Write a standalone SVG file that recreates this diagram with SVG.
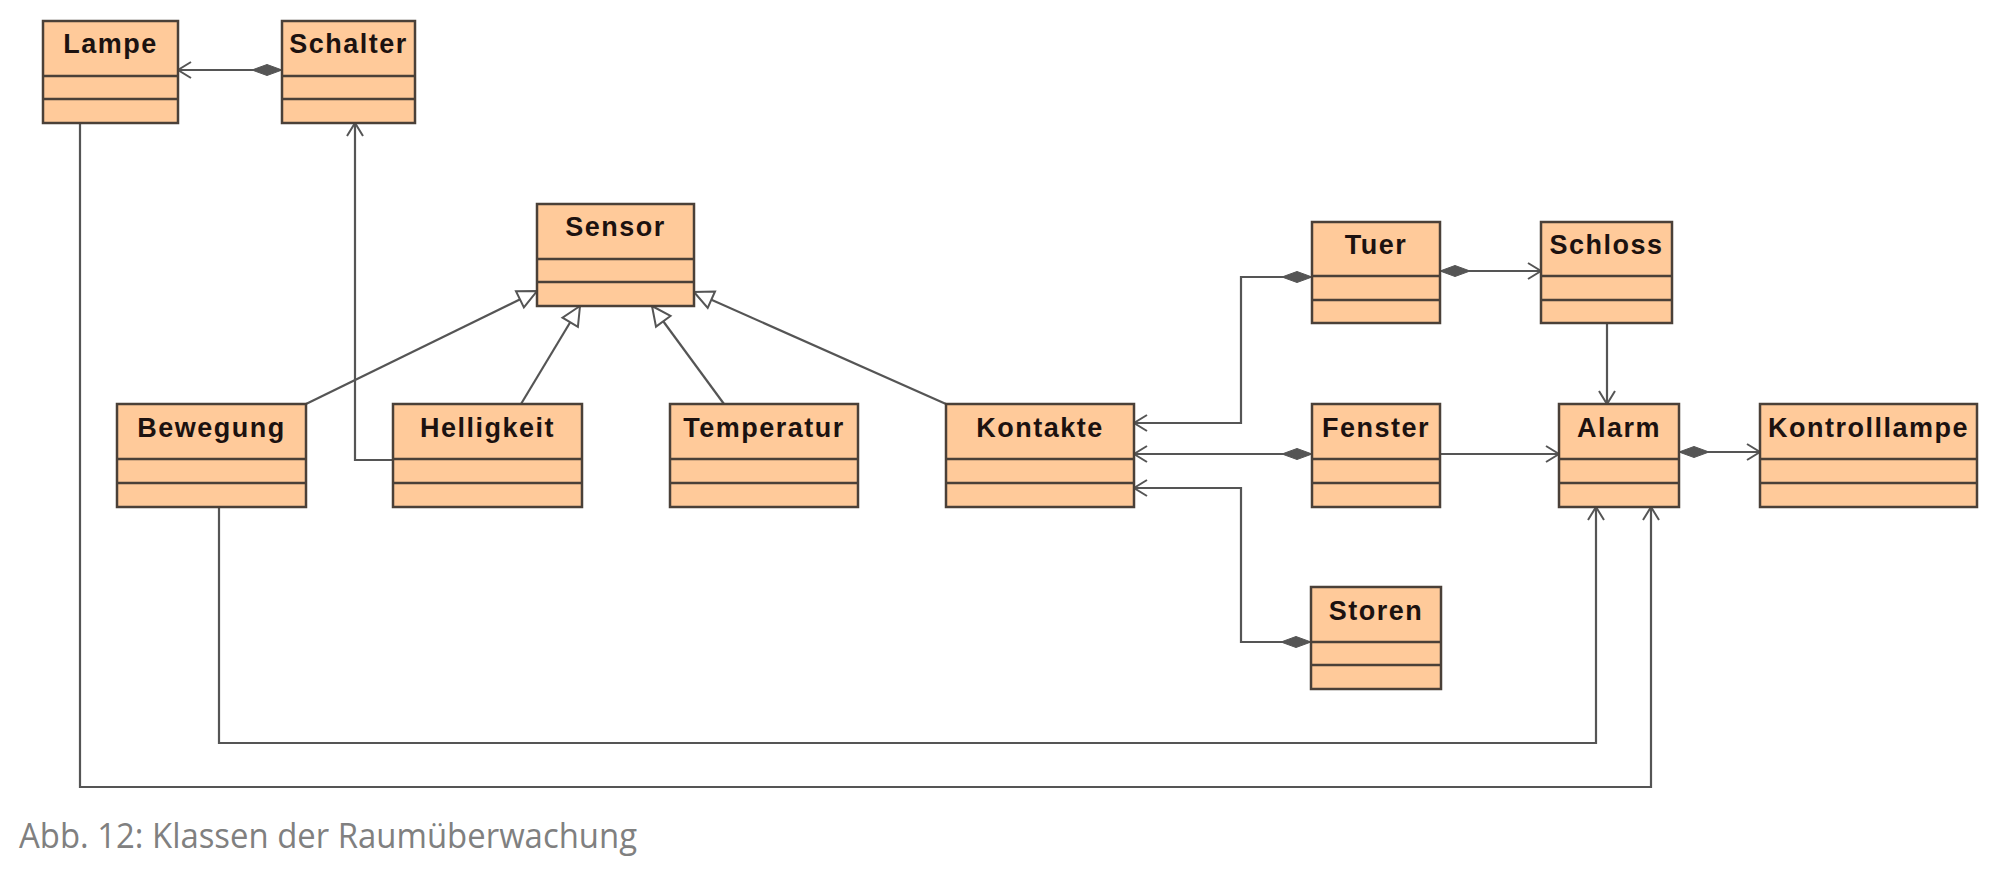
<svg xmlns="http://www.w3.org/2000/svg" width="1998" height="882" viewBox="0 0 1998 882">
<style>
.box rect{fill:#ffca9a;stroke:#4a4038;stroke-width:2.5}
.box line{stroke:#4a4038;stroke-width:2.5}
.box text{font-family:"Liberation Sans",Arial,sans-serif;font-weight:bold;font-size:27px;letter-spacing:1.5px;fill:#1c1210;text-anchor:middle}
.conn path{fill:none;stroke:#555;stroke-width:2.2}
.caption{font-family:"Open Sans","Noto Sans",sans-serif;font-size:34px;fill:#808080}
</style>
<defs>
<marker id="open" markerUnits="userSpaceOnUse" viewBox="-16 -10 18 20" markerWidth="18" markerHeight="20" refX="0" refY="0" orient="auto">
<path d="M-13,-8 L0,0 L-13,8" fill="none" stroke="#555" stroke-width="2"/>
</marker>
<marker id="dia" markerUnits="userSpaceOnUse" viewBox="-2 -7 34 14" markerWidth="34" markerHeight="14" refX="0" refY="0" orient="auto">
<path d="M0,0 L15,-5.5 L30,0 L15,5.5 Z" fill="#555" stroke="#555" stroke-width="1"/>
</marker>
<marker id="tri" markerUnits="userSpaceOnUse" viewBox="-24 -12 27 24" markerWidth="27" markerHeight="24" refX="0" refY="0" orient="auto">
<path d="M0,0 L-19,-9 L-19,9 Z" fill="#fff" stroke="#555" stroke-width="2"/>
</marker>
</defs>

<g id="connectors" class="conn">
<path d="M282,70 H178" marker-start="url(#dia)" marker-end="url(#open)"/>
<path d="M393,460 H355 V123" marker-end="url(#open)"/>
<path d="M80,123 V787 H1651 V507" marker-end="url(#open)"/>
<path d="M219,507 V743 H1596 V507" marker-end="url(#open)"/>
<path d="M306,404 L537,291" marker-end="url(#tri)"/>
<path d="M521,404 L580,306" marker-end="url(#tri)"/>
<path d="M724,404 L652,306" marker-end="url(#tri)"/>
<path d="M946,404 L694,292" marker-end="url(#tri)"/>
<path d="M1312,277 H1241 V423 H1134" marker-start="url(#dia)" marker-end="url(#open)"/>
<path d="M1312,454 H1134" marker-start="url(#dia)" marker-end="url(#open)"/>
<path d="M1311,642 H1241 V488 H1134" marker-start="url(#dia)" marker-end="url(#open)"/>
<path d="M1440,271 H1541" marker-start="url(#dia)" marker-end="url(#open)"/>
<path d="M1607,323 V404" marker-end="url(#open)"/>
<path d="M1440,454 H1559" marker-end="url(#open)"/>
<path d="M1679,452 H1760" marker-start="url(#dia)" marker-end="url(#open)"/>
</g>

<g id="Lampe" class="box"><rect x="43" y="21" width="135" height="102"/><line x1="43" y1="76" x2="178" y2="76"/><line x1="43" y1="99" x2="178" y2="99"/><text x="110.5" y="53">Lampe</text></g>
<g id="Schalter" class="box"><rect x="282" y="21" width="133" height="102"/><line x1="282" y1="76" x2="415" y2="76"/><line x1="282" y1="99" x2="415" y2="99"/><text x="348.5" y="53">Schalter</text></g>
<g id="Sensor" class="box"><rect x="537" y="204" width="157" height="102"/><line x1="537" y1="259" x2="694" y2="259"/><line x1="537" y1="282" x2="694" y2="282"/><text x="615.5" y="236">Sensor</text></g>
<g id="Tuer" class="box"><rect x="1312" y="222" width="128" height="101"/><line x1="1312" y1="276" x2="1440" y2="276"/><line x1="1312" y1="300" x2="1440" y2="300"/><text x="1376" y="254">Tuer</text></g>
<g id="Schloss" class="box"><rect x="1541" y="222" width="131" height="101"/><line x1="1541" y1="276" x2="1672" y2="276"/><line x1="1541" y1="300" x2="1672" y2="300"/><text x="1606.5" y="254">Schloss</text></g>
<g id="Bewegung" class="box"><rect x="117" y="404" width="189" height="103"/><line x1="117" y1="459" x2="306" y2="459"/><line x1="117" y1="483" x2="306" y2="483"/><text x="211.5" y="437">Bewegung</text></g>
<g id="Helligkeit" class="box"><rect x="393" y="404" width="189" height="103"/><line x1="393" y1="459" x2="582" y2="459"/><line x1="393" y1="483" x2="582" y2="483"/><text x="487.5" y="437">Helligkeit</text></g>
<g id="Temperatur" class="box"><rect x="670" y="404" width="188" height="103"/><line x1="670" y1="459" x2="858" y2="459"/><line x1="670" y1="483" x2="858" y2="483"/><text x="764" y="437">Temperatur</text></g>
<g id="Kontakte" class="box"><rect x="946" y="404" width="188" height="103"/><line x1="946" y1="459" x2="1134" y2="459"/><line x1="946" y1="483" x2="1134" y2="483"/><text x="1040" y="437">Kontakte</text></g>
<g id="Fenster" class="box"><rect x="1312" y="404" width="128" height="103"/><line x1="1312" y1="459" x2="1440" y2="459"/><line x1="1312" y1="483" x2="1440" y2="483"/><text x="1376" y="437">Fenster</text></g>
<g id="Alarm" class="box"><rect x="1559" y="404" width="120" height="103"/><line x1="1559" y1="459" x2="1679" y2="459"/><line x1="1559" y1="483" x2="1679" y2="483"/><text x="1619" y="437">Alarm</text></g>
<g id="Kontrolllampe" class="box"><rect x="1760" y="404" width="217" height="103"/><line x1="1760" y1="459" x2="1977" y2="459"/><line x1="1760" y1="483" x2="1977" y2="483"/><text x="1868.5" y="437">Kontrolllampe</text></g>
<g id="Storen" class="box"><rect x="1311" y="587" width="130" height="102"/><line x1="1311" y1="642" x2="1441" y2="642"/><line x1="1311" y1="665" x2="1441" y2="665"/><text x="1376" y="620">Storen</text></g>

<text class="caption" x="19" y="848" textLength="618" lengthAdjust="spacingAndGlyphs">Abb. 12: Klassen der Raumüberwachung</text>
</svg>
